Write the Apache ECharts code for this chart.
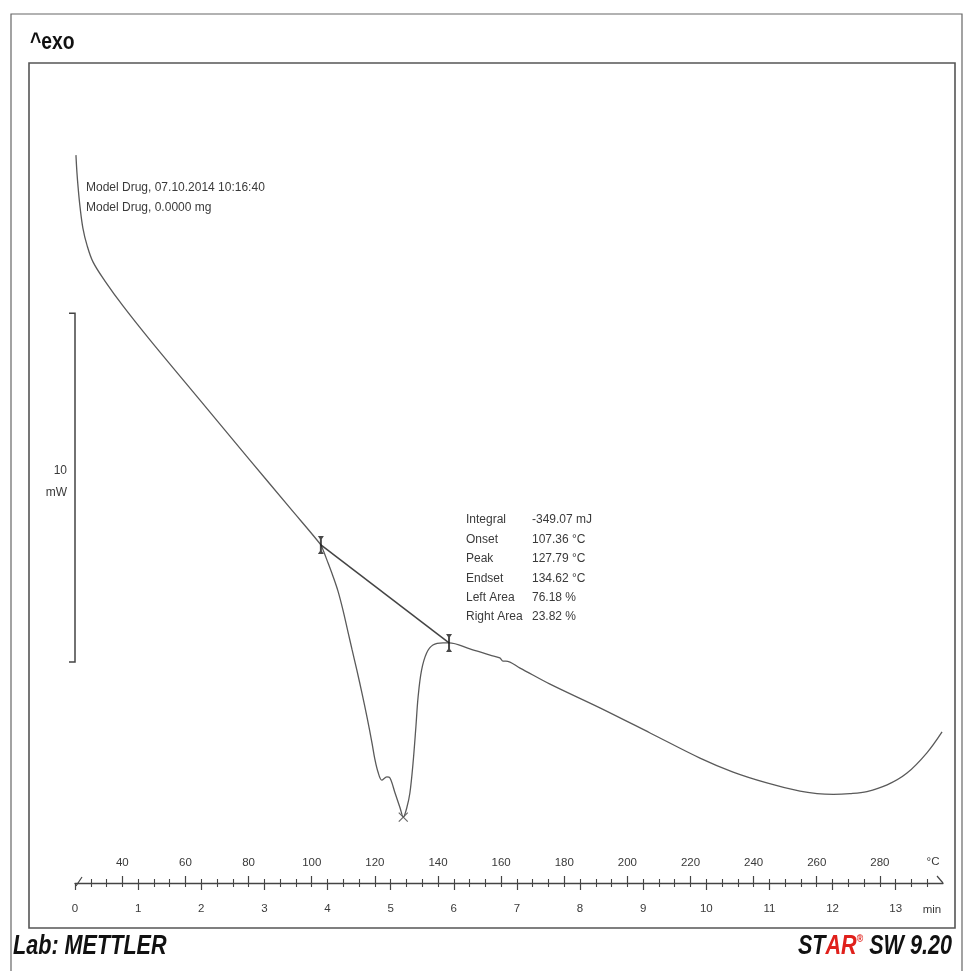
<!DOCTYPE html>
<html><head><meta charset="utf-8">
<script src="https://cdn.jsdelivr.net/npm/echarts@6/dist/echarts.min.js"></script>
<style>html,body{margin:0;padding:0;background:#fff}#c{width:964px;height:971px}</style>
</head><body><div id="c"></div><script>
// DSC curve: temperature (°C) vs heat flow (mW, arbitrary offset, exo up)
const tempC = [25.3, 25.6, 26.0, 26.6, 27.5, 28.8, 30.7, 34.5, 40.2, 48.8, 64.6, 80.4, 93.1, 102.9,
  103.6, 104.8, 106.7, 108.3, 109.9, 111.5, 112.8, 114.3, 115.9, 117.5, 119.1, 120.0, 121.0, 122.2, 123.8, 124.8,
  126.4, 128.0, 129.0, 130.1, 131.1, 132.1, 133.0, 133.7, 134.8, 136.4, 138.4, 141.6, 143.5,
  150.1, 156.5, 159.6, 160.6, 161.5, 166.0, 175.5, 191.3, 207.2, 223.0, 233.5, 244.2, 254.7,
  260.1, 265.3, 270.5, 275.9, 282.3, 288.6, 294.9, 299.7];
const heatFlow = [4.86, 4.38, 3.92, 3.37, 2.77, 2.28, 1.80, 1.25, 0.54, -0.44, -2.16, -3.88, -5.25, -6.31,
  -6.46, -6.74, -7.20, -7.63, -8.18, -8.81, -9.32, -9.90, -10.55, -11.24, -11.99, -12.45, -12.82, -13.05, -12.96, -12.99,
  -13.42, -13.85, -14.11, -13.85, -13.42, -12.56, -11.53, -10.67, -9.90, -9.41, -9.18, -9.12, -9.12,
  -9.29, -9.47, -9.55, -9.64, -9.64, -9.84, -10.30, -10.98, -11.70, -12.42, -12.82, -13.13, -13.37,
  -13.44, -13.46, -13.44, -13.38, -13.19, -12.85, -12.27, -11.67];
// integration baseline (onset / endset limits)
const baselineT = [102.9, 143.5];
const baselineV = [-6.31, -9.12];
// peak marker
const peakT = [129.0];
const peakV = [-14.11];
// axis ticks / labels
const tempMajor = [40, 60, 80, 100, 120, 140, 160, 180, 200, 220, 240, 260, 280];
const tempMinor = [];
for (let t = 30; t < 300; t += 5) if (t % 20 !== 0) tempMinor.push(t);
const timeMajor = [0, 1, 2, 3, 4, 5, 6, 7, 8, 9, 10, 11, 12, 13];
const timeMinor = [];
for (let k = 1; k < 55; k++) if (k % 4 !== 0) timeMinor.push(k * 0.25);
const tempRange = [25, 300];
const timeRange = [0, 13.75];
// 10 mW scale bar (heat-flow values)
const scaleBar = [-9.67, 0.33];
const resultLabels = ['Integral', 'Onset', 'Peak', 'Endset', 'Left Area', 'Right Area'];
const resultValues = ['-349.07 mJ', '107.36 °C', '127.79 °C', '134.62 °C', '76.18 %', '23.82 %'];
const infoLines = ['Model Drug, 07.10.2014 10:16:40', 'Model Drug, 0.0000 mg'];

const FONT = '"Liberation Sans", Arial, sans-serif';
const TXT = '#3a3a3a';
const LINE = '#5a5a5a';

const chart = echarts.init(document.getElementById('c'), null, {renderer: 'canvas'});
const zip = (a, b) => a.map((v, i) => [v, b[i]]);

function axisBase(extra) {
  return Object.assign({
    type: 'value', position: 'bottom', gridIndex: 0,
    axisLine: {show: false, onZero: false},
    splitLine: {show: false},
    axisLabel: {show: false},
    axisTick: {show: false}
  }, extra);
}

const option = {
  animation: false,
  backgroundColor: '#fff',
  grid: {left: 75, right: 21, top: 63, bottom: 88},
  xAxis: [
    axisBase({min: tempRange[0], max: tempRange[1],
      axisLine: {show: true, onZero: false, lineStyle: {color: '#444', width: 1.3}},
      axisTick: {show: true, inside: true, length: 7, customValues: tempMajor, lineStyle: {color: '#444', width: 1.2}},
      axisLabel: {show: true, inside: true, margin: 14, customValues: tempMajor, color: TXT, fontSize: 11.5, fontFamily: FONT}
    }),
    axisBase({min: tempRange[0], max: tempRange[1],
      axisTick: {show: true, inside: true, length: 4, customValues: tempMinor, lineStyle: {color: '#444', width: 1.1}}
    }),
    axisBase({min: timeRange[0], max: timeRange[1],
      axisTick: {show: true, inside: false, length: 7, customValues: timeMajor, lineStyle: {color: '#444', width: 1.2}},
      axisLabel: {show: true, inside: false, margin: 20, customValues: timeMajor, color: TXT, fontSize: 11.5, fontFamily: FONT}
    }),
    axisBase({min: timeRange[0], max: timeRange[1],
      axisTick: {show: true, inside: false, length: 4, customValues: timeMinor, lineStyle: {color: '#444', width: 1.1}}
    })
  ],
  yAxis: {type: 'value', min: -16, max: 7.5, show: false, splitLine: {show: false}},
  series: [
    {type: 'line', name: 'DSC', xAxisIndex: 0, data: zip(tempC, heatFlow), showSymbol: false,
      smooth: 0.35, lineStyle: {color: LINE, width: 1.3}},
    {type: 'line', name: 'baseline', xAxisIndex: 0, data: zip(baselineT, baselineV), showSymbol: false,
      lineStyle: {color: '#444', width: 1.5}},
    {type: 'scatter', name: 'limits', xAxisIndex: 0, data: zip(baselineT, baselineV),
      symbol: 'path://M-0.8,-8 L0.8,-8 L0.8,8 L-0.8,8 Z M-2.4,-8 L2.4,-8 L0,-4 Z M-2.4,8 L0,4 L2.4,8 Z',
      symbolSize: [6, 18], itemStyle: {color: '#1a1a1a'}, z: 5},
    {type: 'scatter', name: 'peak', xAxisIndex: 0, data: zip(peakT, peakV),
      symbol: 'path://M0,0 L10,10 M10,0 L0,10', symbolSize: 9,
      itemStyle: {color: 'none', borderColor: '#444', borderWidth: 1.2}}
  ]
};
chart.setOption(option);

// decorations positioned through the chart's scales
const xs = chart.convertToPixel({xAxisIndex: 0}, tempRange[0]);
const xe = chart.convertToPixel({xAxisIndex: 0}, tempRange[1]);
const yAxisPix = 883;
const yb0 = chart.convertToPixel({yAxisIndex: 0}, scaleBar[0]);
const yb1 = chart.convertToPixel({yAxisIndex: 0}, scaleBar[1]);
const ymid = (yb0 + yb1) / 2;

const g = [];
g.push({type: 'rect', shape: {x: 11, y: 14, width: 951, height: 990}, style: {fill: 'none', stroke: '#666', lineWidth: 1.2}, silent: true});
g.push({type: 'rect', shape: {x: 29, y: 63, width: 926, height: 865}, style: {fill: 'none', stroke: '#555', lineWidth: 1.6}, silent: true});
g.push({type: 'text', x: 30, y: 43, scaleX: 0.84, style: {text: '^exo', font: 'bold 23px ' + FONT, fill: '#111', textAlign: 'left', textVerticalAlign: 'middle'}});
infoLines.forEach((t, i) => g.push({type: 'text', x: 86, y: 188 + i * 20, style: {text: t, font: '12px ' + FONT, fill: TXT, textVerticalAlign: 'middle'}}));
resultLabels.forEach((t, i) => {
  g.push({type: 'text', x: 466, y: 520 + i * 19.4, style: {text: t, font: '12px ' + FONT, fill: TXT, textVerticalAlign: 'middle'}});
  g.push({type: 'text', x: 532, y: 520 + i * 19.4, style: {text: resultValues[i], font: '12px ' + FONT, fill: TXT, textVerticalAlign: 'middle'}});
});
// scale bar
g.push({type: 'polyline', shape: {points: [[xs - 6, yb1], [xs, yb1], [xs, yb0], [xs - 6, yb0]]}, style: {stroke: '#444', lineWidth: 1.5, fill: 'none'}});
g.push({type: 'text', x: 67, y: ymid - 17, style: {text: '10', font: '12px ' + FONT, fill: TXT, textAlign: 'right', textVerticalAlign: 'middle'}});
g.push({type: 'text', x: 67, y: ymid + 5, style: {text: 'mW', font: '12px ' + FONT, fill: TXT, textAlign: 'right', textVerticalAlign: 'middle'}});
// axis end marks
g.push({type: 'line', shape: {x1: xs + 1, y1: yAxisPix + 3, x2: xs + 7, y2: yAxisPix - 6}, style: {stroke: '#444', lineWidth: 1.2}});
g.push({type: 'line', shape: {x1: xe, y1: yAxisPix, x2: xe - 6, y2: yAxisPix - 7}, style: {stroke: '#444', lineWidth: 1.2}});
g.push({type: 'text', x: 933, y: 862, style: {text: '°C', font: '11.5px ' + FONT, fill: TXT, textAlign: 'center', textVerticalAlign: 'middle'}});
g.push({type: 'text', x: 932, y: 910, style: {text: 'min', font: '11.5px ' + FONT, fill: TXT, textAlign: 'center', textVerticalAlign: 'middle'}});
// footer
g.push({type: 'text', x: 13, y: 947, scaleX: 0.8, style: {text: 'Lab: METTLER', font: 'italic bold 27px ' + FONT, fill: '#111', textAlign: 'left', textVerticalAlign: 'middle'}});
g.push({type: 'text', x: 952, y: 947, scaleX: 0.8, style: {
  text: '{k|ST}{r|AR}{s|®}{k| SW 9.20}', textAlign: 'right', textVerticalAlign: 'middle',
  rich: {
    k: {font: 'italic bold 27px ' + FONT, fill: '#111'},
    r: {font: 'italic bold 27px ' + FONT, fill: '#e0201b'},
    s: {font: 'bold 11px ' + FONT, fill: '#e0201b', verticalAlign: 'top'}
  }}});
chart.setOption({graphic: g});
</script></body></html>
